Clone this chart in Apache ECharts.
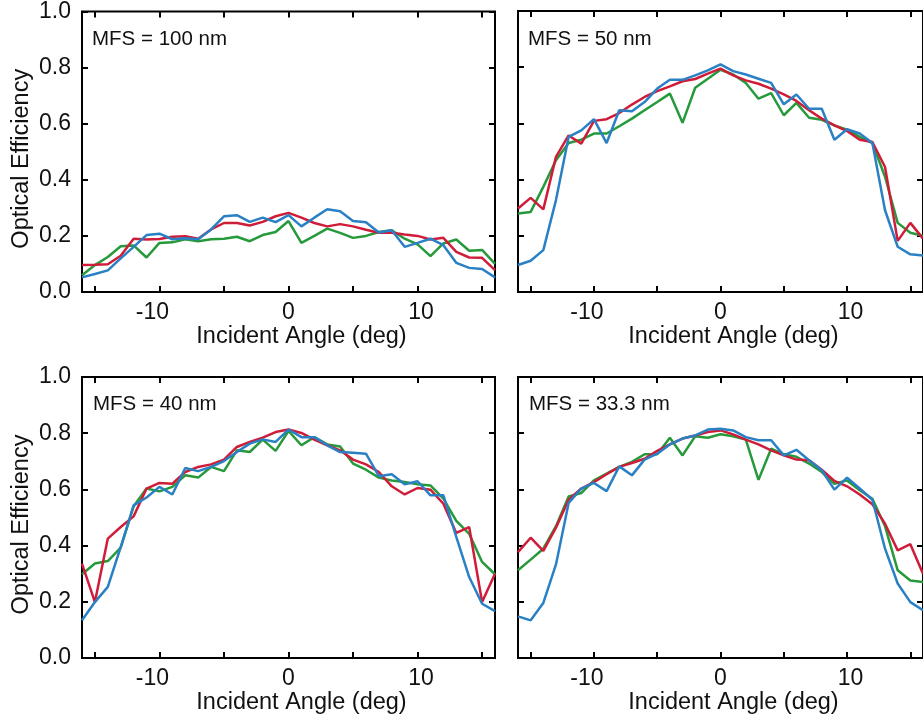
<!DOCTYPE html>
<html>
<head>
<meta charset="utf-8">
<script src="https://cdn.jsdelivr.net/npm/echarts@6/dist/echarts.min.js"></script>
<style>
html,body{margin:0;padding:0;background:#fff;}
#chart{width:923px;height:724px;}
</style>
</head>
<body>
<div id="chart"></div>
<script>
const angles = [-16,-15,-14,-13,-12,-11,-10,-9,-8,-7,-6,-5,-4,-3,-2,-1,0,1,2,3,4,5,6,7,8,9,10,11,12,13,14,15,16];

const panelLabels = ['MFS = 100 nm', 'MFS = 50 nm', 'MFS = 40 nm', 'MFS = 33.3 nm'];
const xTickValues = [-15,-10,-5,0,5,10,15];
const xLabelValues = [-10,0,10];

const red100 = [0.096,0.097,0.099,0.129,0.19,0.187,0.189,0.197,0.199,0.19,0.223,0.246,0.246,0.237,0.25,0.27,0.282,0.265,0.246,0.234,0.242,0.234,0.222,0.211,0.211,0.205,0.2,0.187,0.193,0.143,0.123,0.122,0.078];
const blue100 = [0.052,0.064,0.077,0.12,0.161,0.203,0.208,0.188,0.192,0.188,0.223,0.27,0.274,0.25,0.265,0.249,0.274,0.234,0.265,0.295,0.288,0.253,0.249,0.212,0.22,0.161,0.175,0.19,0.167,0.104,0.086,0.082,0.052];
const green100 = [0.06,0.096,0.125,0.163,0.166,0.123,0.175,0.177,0.188,0.181,0.188,0.19,0.197,0.181,0.203,0.214,0.253,0.175,0.2,0.226,0.211,0.193,0.2,0.214,0.22,0.19,0.17,0.128,0.173,0.187,0.147,0.15,0.1];

const red50 = [0.297,0.335,0.294,0.481,0.557,0.528,0.609,0.615,0.637,0.667,0.694,0.715,0.732,0.75,0.758,0.777,0.795,0.771,0.753,0.741,0.724,0.703,0.68,0.647,0.617,0.593,0.573,0.542,0.534,0.445,0.182,0.246,0.19];
const blue50 = [0.096,0.111,0.149,0.327,0.552,0.575,0.615,0.53,0.647,0.643,0.676,0.724,0.755,0.755,0.771,0.789,0.81,0.786,0.774,0.759,0.744,0.668,0.703,0.652,0.652,0.542,0.579,0.564,0.53,0.291,0.161,0.134,0.13];
const green50 = [0.279,0.285,0.374,0.469,0.53,0.542,0.564,0.564,0.59,0.617,0.647,0.676,0.706,0.602,0.727,0.759,0.791,0.774,0.744,0.688,0.708,0.629,0.673,0.62,0.613,0.593,0.578,0.552,0.53,0.41,0.246,0.211,0.2];

const red40 = [0.336,0.199,0.425,0.466,0.504,0.603,0.623,0.62,0.662,0.68,0.689,0.706,0.751,0.769,0.784,0.804,0.813,0.801,0.777,0.757,0.739,0.706,0.689,0.662,0.611,0.582,0.605,0.599,0.549,0.445,0.466,0.199,0.3];
const blue40 = [0.134,0.199,0.253,0.395,0.543,0.571,0.609,0.582,0.676,0.665,0.68,0.701,0.733,0.763,0.778,0.769,0.813,0.786,0.786,0.757,0.733,0.73,0.727,0.647,0.654,0.618,0.629,0.579,0.579,0.431,0.288,0.193,0.167];
const green40 = [0.298,0.336,0.345,0.393,0.54,0.603,0.593,0.609,0.65,0.642,0.68,0.665,0.739,0.733,0.777,0.737,0.808,0.757,0.786,0.76,0.753,0.692,0.67,0.642,0.632,0.626,0.618,0.614,0.567,0.488,0.442,0.342,0.298];

const red33 = [0.377,0.428,0.381,0.464,0.563,0.603,0.626,0.654,0.68,0.694,0.709,0.737,0.76,0.781,0.792,0.804,0.81,0.796,0.777,0.76,0.739,0.721,0.706,0.704,0.67,0.63,0.611,0.582,0.547,0.478,0.383,0.405,0.3];
const blue33 = [0.148,0.134,0.196,0.333,0.552,0.603,0.623,0.594,0.682,0.65,0.706,0.727,0.76,0.781,0.792,0.813,0.816,0.81,0.786,0.775,0.775,0.721,0.741,0.704,0.668,0.599,0.642,0.603,0.563,0.389,0.265,0.199,0.17];
const green33 = [0.312,0.35,0.389,0.469,0.575,0.587,0.632,0.656,0.68,0.698,0.725,0.725,0.784,0.721,0.789,0.784,0.796,0.789,0.777,0.634,0.745,0.725,0.716,0.692,0.662,0.62,0.632,0.597,0.567,0.469,0.312,0.276,0.27];

const panelData = [
  [green100, red100, blue100],
  [green50, red50, blue50],
  [green40, red40, blue40],
  [green33, red33, blue33]
];
const lineColors = ['#26993a', '#cf1d39', '#2a80c4'];

const FONT = '"Liberation Sans", Arial, Helvetica, sans-serif';
const grids = [
  {left: 82, top: 11, width: 413, height: 281},
  {left: 518, top: 11, width: 412, height: 281},
  {left: 82, top: 377, width: 413, height: 281},
  {left: 518, top: 377, width: 412, height: 281}
];
const labelPos = [[92, 39], [528, 39], [93, 404], [529, 404]];

const tickStyle = {show: true, inside: true, length: 6, lineStyle: {color: '#000', width: 2}};
const noLine = {show: false, onZero: false};
const xAxes = [], yAxes = [], series = [], graphics = [];

function xLabelFmt(v) {
  if (v < 0) return '{neg|' + v + '}';
  if (v > 0) return '{pos|' + v + '}';
  return '{zero|' + v + '}';
}
const xRich = {
  neg: {fontSize: 23, color: '#111', fontFamily: FONT, padding: [0, 14, 0, 0]},
  pos: {fontSize: 23, color: '#111', fontFamily: FONT, padding: [0, 0, 0, 7]},
  zero: {fontSize: 23, color: '#111', fontFamily: FONT}
};

grids.forEach((g, i) => {
  const isLeft = (i % 2 === 0);
  xAxes.push({
    type: 'value', gridIndex: i, position: 'bottom', min: -16, max: 16,
    axisLine: noLine,
    axisTick: Object.assign({customValues: xTickValues}, tickStyle),
    axisLabel: {customValues: xLabelValues, fontSize: 23, color: '#111', fontFamily: FONT, margin: 9,
      formatter: xLabelFmt, rich: xRich},
    splitLine: {show: false},
    name: 'Incident Angle (deg)', nameLocation: 'middle', nameGap: 31,
    nameTextStyle: {fontSize: 23.5, color: '#111', fontFamily: FONT, padding: [0, 0, 0, 26]}
  });
  xAxes.push({
    type: 'value', gridIndex: i, position: 'top', min: -16, max: 16,
    axisLine: noLine,
    axisTick: Object.assign({customValues: xTickValues}, tickStyle),
    axisLabel: {show: false}, splitLine: {show: false}
  });
  yAxes.push(Object.assign({
    type: 'value', gridIndex: i, position: 'left', min: 0, max: 1, interval: 0.2,
    axisLine: noLine,
    axisTick: tickStyle,
    axisLabel: {show: isLeft, fontSize: 23, color: '#111', fontFamily: FONT, margin: 11,
      formatter: v => v.toFixed(1)},
    splitLine: {show: false}
  }, isLeft ? {
    name: 'Optical Efficiency', nameLocation: 'middle', nameGap: 48, nameRotate: 90,
    nameTextStyle: {fontSize: 23.5, color: '#111', fontFamily: FONT, padding: [0, 14, 0, 0]}
  } : {}));
  yAxes.push({
    type: 'value', gridIndex: i, position: 'right', min: 0, max: 1, interval: 0.2,
    axisLine: noLine, axisTick: tickStyle,
    axisLabel: {show: false}, splitLine: {show: false}
  });
  panelData[i].forEach((vals, k) => {
    series.push({
      type: 'line', xAxisIndex: i * 2, yAxisIndex: i * 2,
      data: angles.map((a, j) => [a, vals[j]]),
      showSymbol: false, symbol: 'none', clip: true, silent: true,
      lineStyle: {color: lineColors[k], width: 2.5},
      itemStyle: {color: lineColors[k]}
    });
  });
  graphics.push({
    type: 'text', x: labelPos[i][0], y: labelPos[i][1], silent: true,
    style: {text: panelLabels[i], font: '20.5px ' + FONT, fill: '#111', verticalAlign: 'middle'}
  });
});

const chart = echarts.init(document.getElementById('chart'), null, {renderer: 'canvas'});
chart.setOption({
  animation: false,
  backgroundColor: '#fff',
  grid: grids.map(g => Object.assign({show: true, borderColor: '#000', borderWidth: 2, backgroundColor: 'transparent'}, g)),
  xAxis: xAxes,
  yAxis: yAxes,
  series: series,
  graphic: graphics
});
</script>
</body>
</html>
